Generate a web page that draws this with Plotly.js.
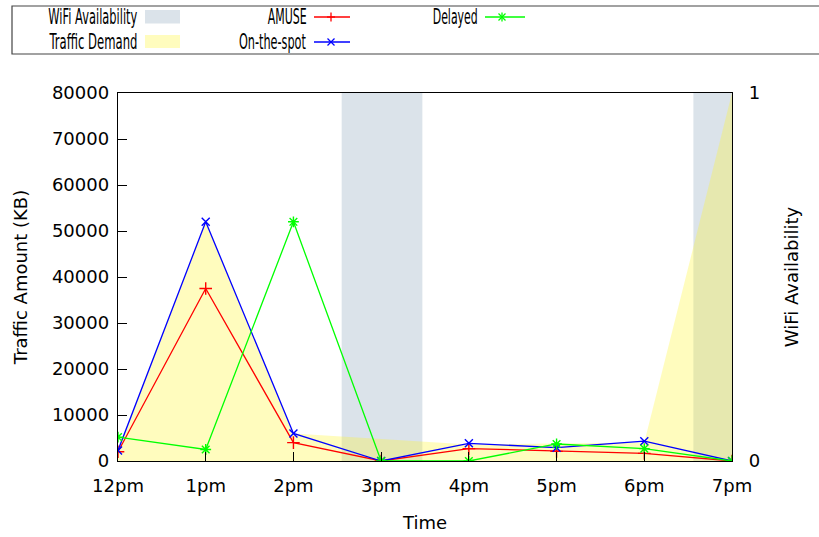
<!DOCTYPE html>
<html>
<head>
<meta charset="utf-8">
<script src="https://cdn.plot.ly/plotly-3.0.1.min.js"></script>
<style>html,body{margin:0;padding:0;background:#fff;}</style>
</head>
<body>
<div id="chart" style="width:819px;height:537px;"></div>
<script>
// ---- data ----
const hours = [0, 1, 2, 3, 4, 5, 6, 7];
const hourLabels = ['12pm', '1pm', '2pm', '3pm', '4pm', '5pm', '6pm', '7pm'];
const amuse = [2000, 37500, 4000, 0, 2700, 2100, 1650, 0];
const onTheSpot = [2300, 52000, 6000, 0, 3850, 2900, 4300, 0];
const delayed = [5200, 2500, 52000, 0, 0, 3700, 2700, 0];
const trafficDemand = [2300, 52000, 6000, 4800, 3600, 3800, 4000, 80000];
const wifiTime = [0, 2.55, 3.47, 6.56, 7];
const wifiAvail = [0, 1, 0, 1, 1];
const seriesNames = ['WiFi Availability', 'Traffic Demand', 'AMUSE', 'On-the-spot', 'Delayed'];

// ---- geometry helpers (pixel -> paper) ----
const W = 819, H = 537, L = 118, R = 732, T = 93, B = 461;
const px = x => (x - L) / (R - L);
const py = y => (B - y) / (B - T);

const FONT = 'DejaVu Sans, Liberation Sans, sans-serif';
const WIFI_COL = '#dbe3ea';
const DEMAND_COL = 'rgba(255,245,40,0.3)';
const RED = '#ff0000', BLUE = '#0000ff', GREEN = '#00ff00';

const traces = [
  {x: wifiTime, y: wifiAvail, type: 'scatter', mode: 'lines', line: {shape: 'hv', width: 0, color: WIFI_COL},
   fill: 'tozeroy', fillcolor: WIFI_COL, xaxis: 'x', yaxis: 'y', name: seriesNames[0], hoverinfo: 'skip'},
  {x: hours, y: trafficDemand, type: 'scatter', mode: 'lines', line: {width: 0, color: DEMAND_COL},
   fill: 'tozeroy', fillcolor: DEMAND_COL, xaxis: 'x', yaxis: 'y2', name: seriesNames[1]},
  {x: hours, y: amuse, type: 'scatter', mode: 'lines+markers', line: {width: 1.3, color: RED},
   marker: {symbol: 'cross-thin-open', size: 9, line: {width: 1.4, color: RED}}, xaxis: 'x', yaxis: 'y2', name: seriesNames[2]},
  {x: hours, y: onTheSpot, type: 'scatter', mode: 'lines+markers', line: {width: 1.3, color: BLUE},
   marker: {symbol: 'x-thin-open', size: 8, line: {width: 1.4, color: BLUE}}, xaxis: 'x', yaxis: 'y2', name: seriesNames[3]},
  {x: hours, y: delayed, type: 'scatter', mode: 'lines+markers', line: {width: 1.3, color: GREEN},
   marker: {symbol: 'asterisk-open', size: 9, line: {width: 1.4, color: GREEN}}, xaxis: 'x', yaxis: 'y2', name: seriesNames[4]}
];

// ---- custom legend (text left of sample, as in reference) ----
const shapes = [];
const annotations = [];
shapes.push({type: 'rect', xref: 'paper', yref: 'paper', x0: px(12), x1: px(835), y0: py(54), y1: py(6),
  line: {color: '#444', width: 1.2}, fillcolor: 'rgba(0,0,0,0)'});
shapes.push({type: 'rect', xref: 'paper', yref: 'paper', x0: px(145), x1: px(180), y0: py(23.5), y1: py(10),
  line: {width: 0}, fillcolor: WIFI_COL});
shapes.push({type: 'rect', xref: 'paper', yref: 'paper', x0: px(145), x1: px(180), y0: py(48), y1: py(35),
  line: {width: 0}, fillcolor: DEMAND_COL});
function sampleLine(x0, x1, y, col) {
  shapes.push({type: 'line', xref: 'paper', yref: 'paper', x0: px(x0), x1: px(x1), y0: py(y), y1: py(y), line: {color: col, width: 1.5}});
}
function seg(xa, ya, xb, yb, col) {
  shapes.push({type: 'line', xref: 'paper', yref: 'paper', x0: px(xa), x1: px(xb), y0: py(ya), y1: py(yb), line: {color: col, width: 1.3}});
}
sampleLine(314, 350, 17, RED);
seg(331, 12.5, 331, 21.5, RED); seg(327, 17, 335, 17, RED);
sampleLine(314, 350, 42, BLUE);
seg(327.5, 38.5, 334.5, 45.5, BLUE); seg(327.5, 45.5, 334.5, 38.5, BLUE);
sampleLine(485, 525, 17, GREEN);
seg(502, 12.5, 502, 21.5, GREEN); seg(498.5, 13.5, 505.5, 20.5, GREEN); seg(498.5, 20.5, 505.5, 13.5, GREEN);

const legendText = [
  {name: seriesNames[0], cx: 92.5, cy: 17, w: 89},
  {name: seriesNames[1], cx: 93, cy: 42, w: 88},
  {name: seriesNames[2], cx: 286.5, cy: 17, w: 39},
  {name: seriesNames[3], cx: 272.5, cy: 42, w: 67},
  {name: seriesNames[4], cx: 454.5, cy: 17, w: 45}
];
legendText.forEach(t => annotations.push({
  text: t.name, xref: 'paper', yref: 'paper', x: px(t.cx), y: py(t.cy), xanchor: 'center', yanchor: 'middle',
  showarrow: false, font: {family: FONT, size: 21, color: '#000'}
}));

const layout = {
  width: W, height: H,
  margin: {l: L, r: W - R, t: T, b: H - B, pad: 0},
  paper_bgcolor: '#fff', plot_bgcolor: '#fff',
  showlegend: false,
  font: {family: FONT, size: 18, color: '#000'},
  xaxis: {
    range: [0, 7], tickvals: hours, ticktext: hourLabels, ticks: 'inside', ticklen: 9, tickcolor: '#000', tickwidth: 1,
    showgrid: false, zeroline: false, showline: true, linecolor: '#000', linewidth: 1.2, mirror: true,
    ticklabelstandoff: 8, tickfont: {family: FONT, size: 18},
    title: {text: 'Time', font: {family: FONT, size: 18}, standoff: 21}
  },
  yaxis: {
    range: [0, 1], tickvals: [0, 1], ticktext: ['0', '1'], side: 'right', ticks: 'inside', ticklen: 9, tickcolor: '#000',
    showgrid: false, zeroline: false, showline: true, linecolor: '#000', linewidth: 1.2,
    ticklabelstandoff: 12, tickfont: {family: FONT, size: 18},
    title: {text: 'WiFi Availability', font: {family: FONT, size: 18}, standoff: 26}
  },
  yaxis2: {
    range: [0, 80000], dtick: 10000, overlaying: 'y', side: 'left', ticks: 'inside', ticklen: 9, tickcolor: '#000',
    showgrid: false, zeroline: false, showline: true, linecolor: '#000', linewidth: 1.2,
    ticklabelstandoff: 4, tickfont: {family: FONT, size: 18}, tickformat: 'd',
    title: {text: 'Traffic Amount (KB)', font: {family: FONT, size: 18}, standoff: 19}
  },
  shapes: shapes,
  annotations: annotations
};

Plotly.newPlot('chart', traces, layout, {displayModeBar: false, staticPlot: true}).then(gd => {
  try {
    const texts = gd.querySelectorAll('.annotation-text');
    texts.forEach((el, i) => {
      if (legendText[i]) {
        el.setAttribute('textLength', legendText[i].w);
        el.setAttribute('lengthAdjust', 'spacingAndGlyphs');
      }
    });
  } catch (e) {}
});
</script>
</body>
</html>
